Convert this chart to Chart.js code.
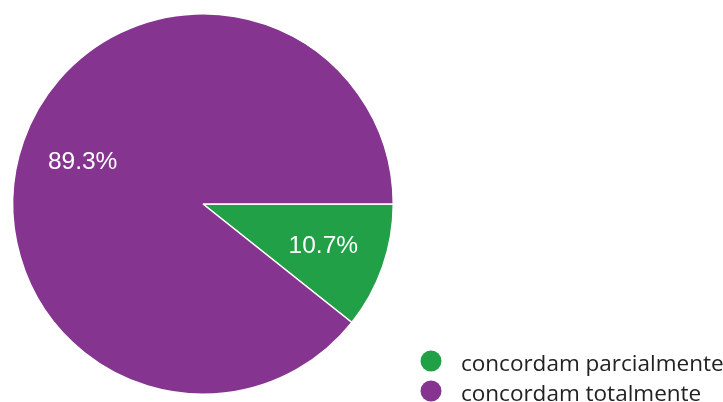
<!DOCTYPE html>
<html>
<head>
<meta charset="utf-8">
<script src="https://cdn.jsdelivr.net/npm/chart.js@4"></script>
<style>
  html, body { margin: 0; padding: 0; background: #fff; }
  #wrap { width: 723px; height: 402px; position: relative; }
</style>
</head>
<body>
<div id="wrap"><canvas id="pieChart"></canvas></div>
<script>
// values (percent)
const categories = ['concordam parcialmente', 'concordam totalmente'];
const percentages = [10.7, 89.3];
const sliceColors = ['#21a047', '#85358f'];

// percent text inside each slice
const sliceLabels = {
    id: 'sliceLabels',
    afterDatasetsDraw(chart) {
        const ctx = chart.ctx;
        const meta = chart.getDatasetMeta(0);
        ctx.save();
        ctx.font = '24.5px "Liberation Sans", Arial, sans-serif';
        ctx.fillStyle = '#ffffff';
        ctx.textAlign = 'center';
        ctx.textBaseline = 'middle';
        meta.data.forEach((arc, i) => {
            const mid = (arc.startAngle + arc.endAngle) / 2;
            const r = arc.outerRadius * 0.67;
            const x = arc.x + Math.cos(mid) * r;
            const y = arc.y + Math.sin(mid) * r;
            ctx.fillText(percentages[i].toFixed(1) + '%', x, y);
        });
        ctx.restore();
    }
};

// legend in the lower right corner
const cornerLegend = {
    id: 'cornerLegend',
    afterDraw(chart) {
        const ctx = chart.ctx;
        ctx.save();
        ctx.font = '22.5px "Open Sans", sans-serif';
        ctx.textBaseline = 'alphabetic';
        ctx.textAlign = 'left';
        categories.forEach((label, i) => {
            const y = 361 + i * 30;
            ctx.beginPath();
            ctx.arc(431, y, 10.5, 0, Math.PI * 2);
            ctx.fillStyle = sliceColors[i];
            ctx.fill();
            ctx.fillStyle = '#222222';
            ctx.fillText(label, 461, y + 10);
        });
        ctx.restore();
    }
};

new Chart(document.getElementById('pieChart').getContext('2d'), {
    type: 'pie',
    data: {
        labels: categories,
        datasets: [{
            data: percentages,
            backgroundColor: sliceColors,
            borderColor: '#ffffff',
            borderWidth: 1.5
        }]
    },
    options: {
        responsive: true,
        maintainAspectRatio: false,
        animation: false,
        rotation: 90,
        layout: {
            padding: { left: 12, top: 13, right: 329, bottom: 7 }
        },
        plugins: {
            legend: { display: false },
            tooltip: { enabled: false }
        }
    },
    plugins: [sliceLabels, cornerLegend]
});
</script>
</body>
</html>
